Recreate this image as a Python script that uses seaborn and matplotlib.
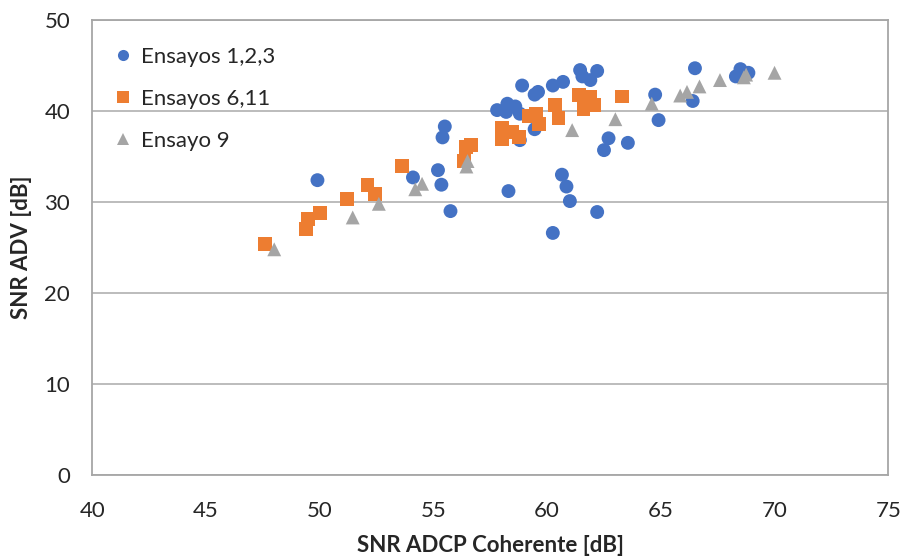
import matplotlib
matplotlib.use("Agg")
import matplotlib.pyplot as plt
import seaborn as sns
import pandas as pd

# Ensayos 1,2,3
x_123 = [49.9, 54.1, 55.2, 55.35, 55.75, 55.5, 55.4, 57.8, 58.25, 58.2, 58.6, 58.8, 58.8,
         58.9, 58.3, 59.45, 59.45, 59.6, 60.25, 60.25, 60.7, 60.65, 60.85, 61.0, 61.45,
         61.55, 61.9, 62.2, 62.2, 62.5, 62.7, 63.55, 64.75, 64.9, 66.5, 66.4, 68.3, 68.5, 68.85]
y_123 = [32.4, 32.7, 33.5, 31.9, 29.0, 38.3, 37.1, 40.1, 40.8, 39.9, 40.5, 39.7, 36.8,
         42.8, 31.2, 38.0, 41.8, 42.1, 42.8, 26.6, 43.2, 33.0, 31.7, 30.1, 44.5,
         43.8, 43.4, 44.4, 28.9, 35.7, 37.0, 36.5, 41.8, 39.0, 44.7, 41.1, 43.8, 44.6, 44.2]

# Ensayos 6,11
x_611 = [47.6, 49.4, 49.5, 50.0, 51.2, 52.1, 52.45, 53.6, 56.35, 56.45, 56.65, 58.0, 58.45,
         58.0, 58.75, 59.2, 59.5, 59.65, 60.35, 60.5, 61.4, 61.85, 61.9, 62.05, 61.6, 63.3]
y_611 = [25.4, 27.0, 28.1, 28.8, 30.3, 31.9, 30.9, 34.0, 34.5, 36.0, 36.3, 38.1, 37.7,
         36.9, 37.1, 39.5, 39.7, 38.6, 40.7, 39.2, 41.8, 41.2, 41.6, 40.7, 40.2, 41.6]

# Ensayo 9
x_9 = [48.0, 51.45, 52.6, 54.2, 54.5, 56.5, 56.45, 61.1, 63.0, 64.6, 65.85, 66.15, 66.7,
       67.6, 68.65, 68.75, 70.0]
y_9 = [24.8, 28.3, 29.8, 31.4, 32.0, 34.5, 33.9, 37.9, 39.1, 40.8, 41.7, 42.1, 42.7,
       43.4, 43.7, 44.0, 44.2]

labels = ["Ensayos 1,2,3", "Ensayos 6,11", "Ensayo 9"]

df = pd.concat([
    pd.DataFrame({"x": x_123, "y": y_123, "serie": labels[0]}),
    pd.DataFrame({"x": x_611, "y": y_611, "serie": labels[1]}),
    pd.DataFrame({"x": x_9, "y": y_9, "serie": labels[2]}),
], ignore_index=True)

sns.set_style("white")
plt.rcParams['font.family'] = ['Lato', 'DejaVu Sans']

fig = plt.figure(figsize=(9.05, 5.59), dpi=100)
ax = fig.add_axes([0.102, 0.1503, 0.8795, 0.8139])

palette = {labels[0]: "#4472C4", labels[1]: "#ED7D31", labels[2]: "#A5A5A5"}
markers = {labels[0]: "o", labels[1]: "s", labels[2]: "^"}
sns.scatterplot(data=df, x="x", y="y", hue="serie", style="serie",
                palette=palette, markers=markers, s=100, linewidth=0,
                ax=ax, zorder=3)

ax.set_xlim(40, 75)
ax.set_ylim(0, 50)
ax.set_xticks(range(40, 80, 5))
ax.set_yticks(range(0, 60, 10))
ax.yaxis.grid(True, color="#B0B0B0", linewidth=1.2)
ax.xaxis.grid(False)
for sp in ax.spines.values():
    sp.set_color("#A6A6A6")
    sp.set_linewidth(1.3)
ax.tick_params(axis="x", direction="in", length=5, color="#A6A6A6", labelsize=16, pad=19)
ax.tick_params(axis="y", length=0, labelsize=16, pad=16)

ax.set_xlabel("SNR ADCP Coherente [dB]", fontsize=16, fontweight="bold", labelpad=10)
ax.set_ylabel("SNR ADV [dB]", fontsize=16, fontweight="bold", labelpad=9)

leg = ax.legend(loc="upper left", frameon=False, fontsize=16, labelspacing=1.0,
                handlelength=1.0, handletextpad=0.3, borderaxespad=0,
                bbox_to_anchor=(0.014, 0.961))
for h in leg.legend_handles:
    h.set_markersize(8)

fig.savefig("out.png", dpi=100)
